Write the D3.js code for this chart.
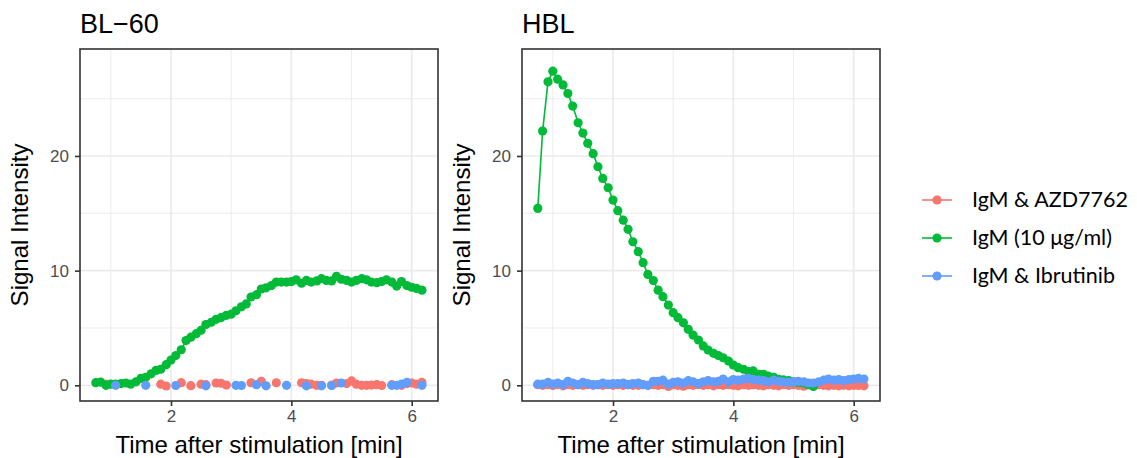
<!DOCTYPE html>
<html lang="en">
<head>
<meta charset="UTF-8">
<title>Signal intensity after stimulation</title>
<script src="https://d3js.org/d3.v7.min.js"></script>
<style>
  body { margin: 0; background: #fff; }
  svg { display: block; }
  .axis-text { font-family: "Liberation Sans", Arial, sans-serif; }
</style>
</head>
<body>
<div id="chart"></div>
<script>
// time points (min)
const time = [0.75, 0.83, 0.92, 1.00, 1.08, 1.17, 1.25, 1.33, 1.42, 1.50, 1.58, 1.67,
  1.75, 1.83, 1.92, 2.00, 2.08, 2.17, 2.25, 2.33, 2.42, 2.50, 2.58, 2.67,
  2.75, 2.83, 2.92, 3.00, 3.08, 3.17, 3.25, 3.33, 3.42, 3.50, 3.58, 3.67,
  3.75, 3.83, 3.92, 4.00, 4.08, 4.17, 4.25, 4.33, 4.42, 4.50, 4.58, 4.67,
  4.75, 4.83, 4.92, 5.00, 5.08, 5.17, 5.25, 5.33, 5.42, 5.50, 5.58, 5.67,
  5.75, 5.83, 5.92, 6.00, 6.08, 6.17];

// BL-60 panel
const blRed = [null, null, 0.1, null, null, null, null, null, null, null, null, null,
  null, 0.1, -0.06, null, null, 0.23, null, -0.03, null, 0.1, 0.05, null,
  0.2, 0.18, 0.02, null, null, null, null, 0.22, null, 0.35, null, null,
  0.22, null, null, null, null, 0.22, 0.15, 0.1, 0.0, 0.0, null, 0.02,
  0.2, null, 0.15, 0.38, 0.1, 0.0, 0.0, 0.02, 0.05, -0.02, null, 0.05,
  null, 0.0, 0.15, 0.2, 0.1, 0.25];
const blGreen = [0.23, 0.28, 0.0, 0.1, 0.1, 0.15, 0.2, 0.1, 0.3, 0.6, 0.7, 1.0,
  1.3, 1.4, 1.8, 2.2, 2.6, 3.1, 3.9, 4.2, 4.5, 4.8, 5.3, 5.5,
  5.75, 5.9, 6.1, 6.2, 6.5, 6.85, 7.1, 7.7, 7.9, 8.4, 8.5, 8.7,
  9.0, 9.0, 9.0, 9.05, 9.2, 8.9, 9.15, 9.0, 9.1, 9.3, 9.15, 9.1,
  9.5, 9.25, 9.15, 9.0, 9.15, 9.3, 9.2, 9.0, 8.95, 9.05, 9.2, 9.0,
  8.65, 9.05, 8.7, 8.55, 8.45, 8.3];
const blBlue = [null, null, null, null, 0.0, null, null, null, null, null, 0.0, null,
  null, null, null, null, -0.02, null, null, null, null, null, -0.05, null,
  null, null, null, null, 0.0, -0.02, null, null, 0.05, null, -0.05, null,
  null, null, 0.0, null, null, null, -0.05, null, null, -0.05, null, -0.02,
  null, 0.2, null, null, null, null, null, null, null, null, null, 0.0,
  0.0, 0.1, 0.25, null, null, 0.0];

// HBL panel
const hblRed = [0.05, 0.0, 0.05, -0.02, 0.05, -0.05, 0.05, 0.0, 0.05, 0.0, 0.05, 0.0,
  0.05, 0.0, 0.05, 0.0, 0.05, 0.0, 0.05, 0.0, 0.0, 0.05, 0.0, 0.05,
  0.0, 0.05, -0.1, 0.05, 0.0, -0.08, 0.05, 0.0, 0.05, 0.0, 0.05, -0.05,
  0.05, 0.0, 0.05, 0.0, -0.05, 0.05, 0.0, 0.05, 0.0, -0.05, 0.05, 0.0,
  -0.05, 0.05, 0.0, 0.05, 0.0, -0.08, 0.05, 0.0, 0.05, 0.0, -0.05, 0.0,
  -0.05, 0.0, -0.05, 0.0, -0.02, -0.05];
const hblGreen = [15.43, 22.17, 26.47, 27.4, 26.7, 26.2, 25.45, 24.35, 22.9, 22.0, 21.1, 20.2,
  19.06, 18.04, 17.23, 16.15, 15.23, 14.4, 13.6, 12.52, 11.65, 10.69, 9.67, 9.13,
  8.3, 7.73, 7.0, 6.33, 5.9, 5.45, 4.88, 4.38, 3.95, 3.43, 3.08, 2.79,
  2.6, 2.4, 2.12, 1.77, 1.54, 1.4, 1.2, 1.25, 0.96, 0.96, 0.8, 0.7,
  0.52, 0.47, 0.41, 0.3, 0.25, 0.19, 0.05, -0.1, null, null, null, null,
  null, null, null, null, null, null];
const hblBlue = [0.1, 0.1, 0.25, 0.1, 0.2, 0.05, 0.35, 0.2, 0.05, 0.25, 0.15, 0.05,
  0.05, 0.2, 0.1, 0.15, 0.15, 0.2, 0.05, 0.15, 0.2, 0.05, 0.0, 0.35,
  0.35, 0.45, 0.1, 0.25, 0.3, 0.2, 0.4, 0.3, 0.15, 0.3, 0.4, 0.3,
  0.35, 0.55, 0.3, 0.5, 0.45, 0.55, 0.6, 0.5, 0.45, 0.4, 0.3, 0.45,
  0.35, 0.3, 0.25, 0.3, 0.35, 0.3, 0.2, 0.2, 0.3, 0.45, 0.55, 0.45,
  0.5, 0.4, 0.5, 0.55, 0.6, 0.55];

const seriesNames = ["IgM & AZD7762", "IgM (10 μg/ml)", "IgM & Ibrutinib"];
const seriesColors = ["#F8766D", "#00BA38", "#619CFF"];
const panelTitles = ["BL−60", "HBL"];
const xTicks = [2, 4, 6];
const xMinor = [1, 3, 5];
const yTicks = [0, 10, 20];
const yMinor = [5, 15, 25];

const panels = [
  { title: panelTitles[0], left: 80, series: [blRed, blGreen, blBlue] },
  { title: panelTitles[1], left: 522, series: [hblRed, hblGreen, hblBlue] }
];

const width = 1137, height = 458;
const panelW = 358, panelTop = 49, panelBottom = 401;
const dotR = 4.6;

const svg = d3.select("#chart").append("svg")
  .attr("width", width)
  .attr("height", height)
  .attr("viewBox", [0, 0, width, height]);

const y = d3.scaleLinear().domain([-1.37, 29.33]).range([panelBottom, panelTop]);

panels.forEach(p => {
  const x = d3.scaleLinear().domain([0.4877, 6.437]).range([p.left, p.left + panelW]);
  const g = svg.append("g");

  // grid
  g.selectAll(".minor-x").data(xMinor).join("line")
    .attr("x1", d => x(d)).attr("x2", d => x(d))
    .attr("y1", panelTop).attr("y2", panelBottom)
    .attr("stroke", "#EBEBEB").attr("stroke-width", 0.9);
  g.selectAll(".minor-y").data(yMinor).join("line")
    .attr("x1", p.left).attr("x2", p.left + panelW)
    .attr("y1", d => y(d)).attr("y2", d => y(d))
    .attr("stroke", "#EBEBEB").attr("stroke-width", 0.9);
  g.selectAll(".major-x").data(xTicks).join("line")
    .attr("x1", d => x(d)).attr("x2", d => x(d))
    .attr("y1", panelTop).attr("y2", panelBottom)
    .attr("stroke", "#EBEBEB").attr("stroke-width", 1.7);
  g.selectAll(".major-y").data(yTicks).join("line")
    .attr("x1", p.left).attr("x2", p.left + panelW)
    .attr("y1", d => y(d)).attr("y2", d => y(d))
    .attr("stroke", "#EBEBEB").attr("stroke-width", 1.7);

  const line = d3.line()
    .defined(d => d.v !== null)
    .x(d => x(d.t))
    .y(d => y(d.v));

  const rows = p.series.map(vals => vals.map((v, i) => ({ t: time[i], v: v })));

  // lines first, then points (ggplot layer order)
  rows.forEach((r, k) => {
    g.append("path")
      .datum(r)
      .attr("d", line)
      .attr("fill", "none")
      .attr("stroke", seriesColors[k])
      .attr("stroke-width", 1.6);
  });
  rows.forEach((r, k) => {
    g.append("g").selectAll("circle")
      .data(r.filter(d => d.v !== null))
      .join("circle")
      .attr("cx", d => x(d.t))
      .attr("cy", d => y(d.v))
      .attr("r", dotR)
      .attr("fill", seriesColors[k]);
  });

  // panel border
  g.append("rect")
    .attr("x", p.left).attr("y", panelTop)
    .attr("width", panelW).attr("height", panelBottom - panelTop)
    .attr("fill", "none").attr("stroke", "#333333").attr("stroke-width", 1.6);

  // axes
  const xAxis = g.append("g")
    .attr("transform", `translate(0,${panelBottom})`)
    .call(d3.axisBottom(x).tickValues(xTicks).tickSize(5).tickPadding(4).tickFormat(d3.format("d")));
  const yAxis = g.append("g")
    .attr("transform", `translate(${p.left},0)`)
    .call(d3.axisLeft(y).tickValues(yTicks).tickSize(5).tickPadding(6).tickFormat(d3.format("d")));
  [xAxis, yAxis].forEach(a => {
    a.select(".domain").remove();
    a.selectAll(".tick line").attr("stroke", "#333333").attr("stroke-width", 1.6);
    a.selectAll(".tick text")
      .attr("class", "axis-text")
      .attr("fill", "#4D4D4D")
      .attr("font-size", 17);
  });
  xAxis.selectAll(".tick text").attr("dy", "0.71em");

  // titles
  g.append("text")
    .attr("class", "axis-text")
    .attr("x", p.left).attr("y", 33)
    .attr("font-size", 27)
    .attr("fill", "#000")
    .text(p.title);

  g.append("text")
    .attr("class", "axis-text")
    .attr("transform", `translate(${p.left - 52},${(panelTop + panelBottom) / 2}) rotate(-90)`)
    .attr("text-anchor", "middle")
    .attr("font-size", 24)
    .attr("fill", "#000")
    .text("Signal Intensity");

  g.append("text")
    .attr("class", "axis-text")
    .attr("x", p.left + panelW / 2).attr("y", 453)
    .attr("text-anchor", "middle")
    .attr("font-size", 24)
    .attr("fill", "#000")
    .text("Time after stimulation [min]");
});

// legend
const legend = svg.append("g").attr("transform", "translate(922,200)");
seriesNames.forEach((name, k) => {
  const row = legend.append("g").attr("transform", `translate(0,${k * 38})`);
  row.append("line")
    .attr("x1", 0).attr("x2", 30)
    .attr("stroke", seriesColors[k]).attr("stroke-width", 1.6);
  row.append("circle")
    .attr("cx", 15).attr("r", dotR)
    .attr("fill", seriesColors[k]);
  row.append("text")
    .attr("x", 50).attr("y", 7)
    .attr("font-family", "Lato, sans-serif")
    .attr("font-size", 21.5)
    .attr("fill", "#000")
    .text(name);
});
</script>
</body>
</html>
